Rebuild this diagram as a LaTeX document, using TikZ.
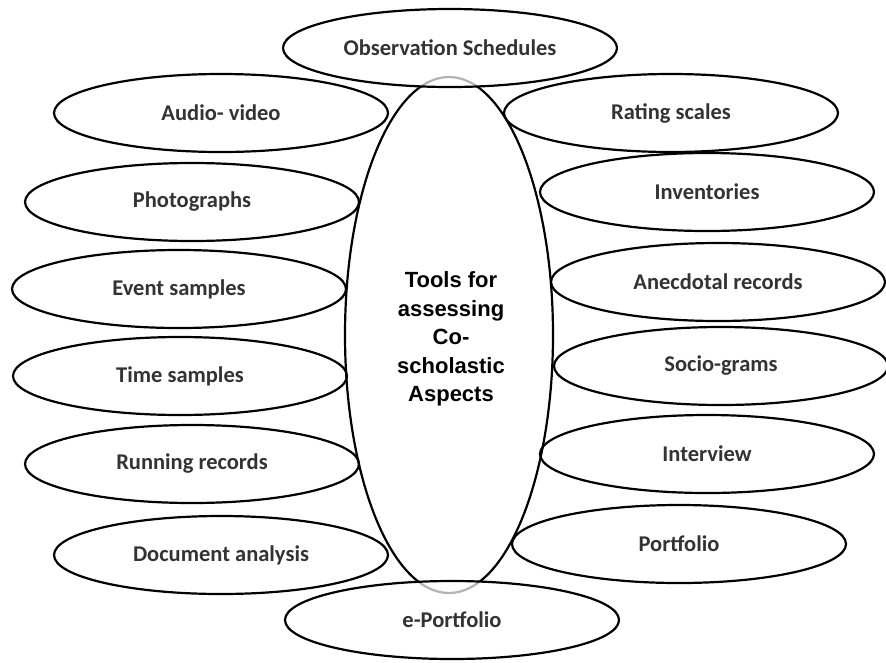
\documentclass[tikz,border=0pt]{standalone}
\usepackage{fontspec}
\setmainfont{Carlito}
\newfontfamily\hubfont{Liberation Sans}
\usetikzlibrary{shapes.geometric}

\begin{document}
\begin{tikzpicture}[x=1pt,y=-1pt,
    tool/.style={ellipse,draw,line width=2.2pt,fill=white,minimum width=334pt,minimum height=78pt,inner sep=0pt,
      font=\fontsize{22.5}{26}\selectfont\bfseries,text=black!80},
    endtool/.style={tool,fill opacity=0.7,text opacity=1},
    hub/.style={ellipse,draw,line width=2.2pt,minimum width=208pt,minimum height=516pt,inner sep=0pt,align=center,
      font=\hubfont\fontsize{22}{28.5}\selectfont\bfseries}]
  \useasboundingbox (0,0) rectangle (886,662);
  % left column
  \node[tool] (audio) at (221,113) {Audio- video};
  \node[tool] (photo) at (192,202) {Photographs};
  \node[tool] (event) at (179,289) {Event samples};
  \node[tool] (time) at (180,376) {Time samples};
  \node[tool] (running) at (192,464) {Running records};
  \node[tool] (document) at (221,555) {Document analysis};
  % right column
  \node[tool] (rating) at (671,113) {Rating scales};
  \node[tool] (inventory) at (707,192) {Inventories};
  \node[tool] (anecdotal) at (718,282) {Anecdotal records};
  \node[tool] (socio) at (721,366) {Socio-grams};
  \node[tool] (interview) at (707,454) {Interview};
  \node[tool] (portfolio) at (679,544) {Portfolio};
  % centre
  \node[hub] (tools) at (449,335) {};
  \node[font=\hubfont\fontsize{22}{28.5}\selectfont\bfseries,align=center] (toolstext) at (451,339) {Tools for\\assessing\\Co-\\scholastic\\Aspects};
  \node[endtool] (observation) at (450,48) {Observation Schedules};
  \node[endtool] (eportfolio) at (452,620) {e-Portfolio};
\end{tikzpicture}
\end{document}
